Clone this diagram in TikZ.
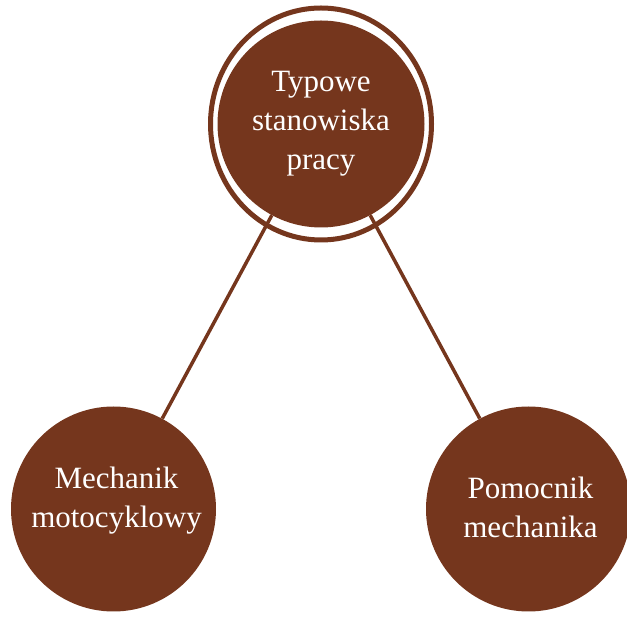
\documentclass[tikz,border=0pt]{standalone}
\usepackage{fontspec}
\setmainfont{Liberation Serif}
\usepackage{tikz}
\usetikzlibrary{shapes.geometric}
\definecolor{rust}{RGB}{117,54,29}
\tikzstyle{vertex}=[circle,fill=rust,text=white,align=center,inner sep=0pt,minimum size=205pt,font=\fontsize{31}{39}\selectfont]
\tikzstyle{ring}=[ellipse,draw=rust,line width=5pt,inner sep=0pt,minimum width=221pt,minimum height=232pt]
\tikzstyle{caption}=[text=white,align=center,font=\fontsize{31}{39}\selectfont]

\begin{document}
\begin{tikzpicture}[x=1pt,y=1pt,level/.style={sibling distance=415pt,level distance=385pt}]
\tikzstyle{edge from parent}=[draw=rust,line width=3.5pt]
\useasboundingbox (0,0) rectangle (627,618);
    \node [vertex,minimum size=207pt] (work) at (321,494) {Typowe\\stanowiska\\pracy}
  child {
	    node [vertex] (moto) {}
  } child {
	    node [vertex] (help) {}
  };

\node [ring] (workring) at (work) {};
\node [caption] (motolabel) at (moto) [xshift=3pt,yshift=8pt] {Mechanik\\motocyklowy};
\node [caption] (helplabel) at (help) [xshift=2pt,yshift=2pt] {Pomocnik\\mechanika};
\end{tikzpicture}
\end{document}
